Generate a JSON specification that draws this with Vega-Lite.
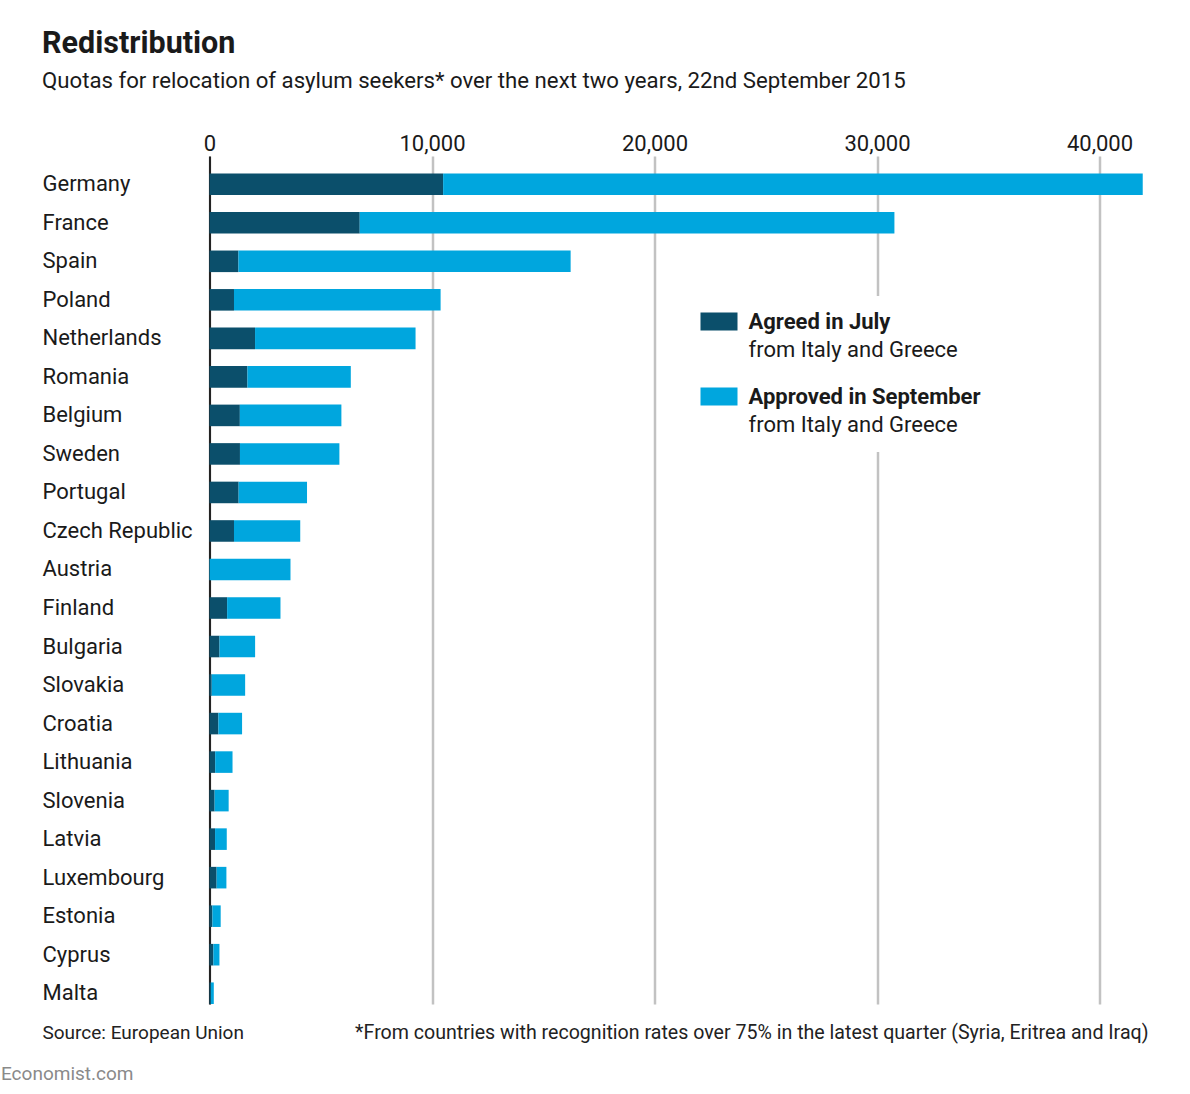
{
  "$schema": "https://vega.github.io/schema/vega-lite/v6.json",
  "description": "Redistribution: quotas for relocation of asylum seekers over the next two years, 22nd September 2015",
  "width": 934.5,
  "height": 848,
  "autosize": {"type": "none"},
  "padding": {"left": 209.5, "top": 156, "right": 46, "bottom": 90},
  "background": "white",
  "title": {
    "text": "Redistribution",
    "subtitle": "Quotas for relocation of asylum seekers* over the next two years, 22nd September 2015",
    "anchor": "start",
    "frame": "group",
    "dx": -167.5,
    "offset": 40,
    "fontSize": 30.5,
    "fontWeight": "bold",
    "color": "#1a1a1a",
    "subtitleFontSize": 22.2,
    "subtitleColor": "#1a1a1a",
    "subtitlePadding": 10
  },
  "datasets": {
    "quotas": [
      {"country": "Germany", "series": "Agreed in July", "quota": 10500},
      {"country": "Germany", "series": "Approved in September", "quota": 31443},
      {"country": "France", "series": "Agreed in July", "quota": 6752},
      {"country": "France", "series": "Approved in September", "quota": 24031},
      {"country": "Spain", "series": "Agreed in July", "quota": 1300},
      {"country": "Spain", "series": "Approved in September", "quota": 14931},
      {"country": "Poland", "series": "Agreed in July", "quota": 1100},
      {"country": "Poland", "series": "Approved in September", "quota": 9287},
      {"country": "Netherlands", "series": "Agreed in July", "quota": 2047},
      {"country": "Netherlands", "series": "Approved in September", "quota": 7214},
      {"country": "Romania", "series": "Agreed in July", "quota": 1705},
      {"country": "Romania", "series": "Approved in September", "quota": 4646},
      {"country": "Belgium", "series": "Agreed in July", "quota": 1364},
      {"country": "Belgium", "series": "Approved in September", "quota": 4564},
      {"country": "Sweden", "series": "Agreed in July", "quota": 1369},
      {"country": "Sweden", "series": "Approved in September", "quota": 4469},
      {"country": "Portugal", "series": "Agreed in July", "quota": 1309},
      {"country": "Portugal", "series": "Approved in September", "quota": 3074},
      {"country": "Czech Republic", "series": "Agreed in July", "quota": 1100},
      {"country": "Czech Republic", "series": "Approved in September", "quota": 2978},
      {"country": "Austria", "series": "Agreed in July", "quota": 0},
      {"country": "Austria", "series": "Approved in September", "quota": 3640},
      {"country": "Finland", "series": "Agreed in July", "quota": 792},
      {"country": "Finland", "series": "Approved in September", "quota": 2398},
      {"country": "Bulgaria", "series": "Agreed in July", "quota": 450},
      {"country": "Bulgaria", "series": "Approved in September", "quota": 1600},
      {"country": "Slovakia", "series": "Agreed in July", "quota": 100},
      {"country": "Slovakia", "series": "Approved in September", "quota": 1502},
      {"country": "Croatia", "series": "Agreed in July", "quota": 400},
      {"country": "Croatia", "series": "Approved in September", "quota": 1064},
      {"country": "Lithuania", "series": "Agreed in July", "quota": 255},
      {"country": "Lithuania", "series": "Approved in September", "quota": 780},
      {"country": "Slovenia", "series": "Agreed in July", "quota": 230},
      {"country": "Slovenia", "series": "Approved in September", "quota": 631},
      {"country": "Latvia", "series": "Agreed in July", "quota": 250},
      {"country": "Latvia", "series": "Approved in September", "quota": 526},
      {"country": "Luxembourg", "series": "Agreed in July", "quota": 320},
      {"country": "Luxembourg", "series": "Approved in September", "quota": 440},
      {"country": "Estonia", "series": "Agreed in July", "quota": 130},
      {"country": "Estonia", "series": "Approved in September", "quota": 373},
      {"country": "Cyprus", "series": "Agreed in July", "quota": 173},
      {"country": "Cyprus", "series": "Approved in September", "quota": 274},
      {"country": "Malta", "series": "Agreed in July", "quota": 60},
      {"country": "Malta", "series": "Approved in September", "quota": 133}
    ],
    "notes": [
      {"series": "Agreed in July", "note": "from Italy and Greece"},
      {"series": "Approved in September", "note": "from Italy and Greece"}
    ]
  },
  "layer": [
    {
      "data": {"name": "quotas"},
      "mark": {"type": "bar"},
      "encoding": {
        "y": {
          "field": "country",
          "type": "nominal",
          "sort": null,
          "scale": {"paddingInner": 0.44, "paddingOuter": 0.227, "align": 1},
          "axis": {
            "title": "Source: European Union",
            "titleAngle": 0,
            "titleAlign": "left",
            "titleBaseline": "alphabetic",
            "titleX": -167.5,
            "titleY": 882,
            "titleFontSize": 19,
            "titleFontWeight": "normal",
            "titleColor": "#222222",
            "labelAlign": "left",
            "labelBaseline": "middle",
            "labelPadding": 167.5,
            "labelFontSize": 22,
            "labelColor": "#1a1a1a",
            "labelLimit": 0,
            "ticks": false,
            "tickSize": 0,
            "grid": false,
            "domain": true,
            "domainColor": "#111111",
            "domainWidth": 1.8
          }
        },
        "x": {
          "field": "quota",
          "type": "quantitative",
          "stack": "zero",
          "scale": {"domain": [0, 42000], "nice": false},
          "axis": {
            "orient": "top",
            "values": [0, 10000, 20000, 30000, 40000],
            "format": ",.0f",
            "grid": true,
            "gridColor": "#c2c2c2",
            "gridWidth": 2.5,
            "domain": false,
            "ticks": false,
            "tickSize": 0,
            "labelFlush": false,
            "labelPadding": 6,
            "labelBaseline": "alphabetic",
            "labelFontSize": 22,
            "labelColor": "#1a1a1a",
            "title": "*From countries with recognition rates over 75% in the latest quarter (Syria, Eritrea and Iraq)",
            "titleX": 938.5,
            "titleY": 882,
            "titleAlign": "right",
            "titleBaseline": "alphabetic",
            "titleFontSize": 19.6,
            "titleFontWeight": "normal",
            "titleColor": "#222222"
          }
        },
        "color": {
          "field": "series",
          "type": "nominal",
          "scale": {
            "domain": ["Agreed in July", "Approved in September"],
            "range": ["#0b4f6b", "#00a6de"]
          },
          "legend": {
            "orient": "none",
            "legendX": 475,
            "legendY": 131,
            "zindex": 2,
            "title": null,
            "symbolType": "M-1,-0.486H1V0.486H-1Z",
            "symbolSize": 1369,
            "symbolStrokeWidth": 0,
            "labelFontSize": 22,
            "labelFontWeight": "bold",
            "labelColor": "#1a1a1a",
            "labelOffset": 11,
            "labelLimit": 0,
            "rowPadding": 45,
            "padding": 16
          }
        },
        "order": {"field": "series", "type": "nominal", "sort": "ascending"}
      }
    },
    {
      "data": {"name": "notes"},
      "mark": {"type": "point", "opacity": 0, "filled": true},
      "encoding": {
        "y": {
          "datum": 0,
          "type": "quantitative",
          "axis": {
            "orient": "right",
            "labels": false,
            "ticks": false,
            "domain": false,
            "grid": false,
            "title": "Economist.com",
            "titleAngle": 0,
            "titleAlign": "left",
            "titleBaseline": "alphabetic",
            "titleX": -1143.5,
            "titleY": 923,
            "titleFontSize": 19,
            "titleFontWeight": "normal",
            "titleColor": "#8a8a8a"
          }
        },
        "shape": {
          "field": "series",
          "type": "nominal",
          "scale": {"range": ["M-1,-0.486H1V0.486H-1Z", "M-1,-0.486H1V0.486H-1Z"]},
          "legend": {
            "orient": "none",
            "legendX": 475,
            "legendY": 140,
            "zindex": 1,
            "title": " ",
            "titleFontSize": 10,
            "titlePadding": 9,
            "labelExpr": "'from Italy and Greece'",
            "symbolSize": 1369,
            "symbolOpacity": 0,
            "symbolStrokeWidth": 0,
            "labelFontSize": 22,
            "labelFontWeight": "normal",
            "labelColor": "#1a1a1a",
            "labelOffset": 11,
            "labelLimit": 0,
            "rowPadding": 45,
            "fillColor": "white",
            "padding": 16
          }
        }
      }
    }
  ],
  "resolve": {"scale": {"y": "independent"}},
  "config": {
    "font": "Roboto",
    "view": {"stroke": null}
  }
}
